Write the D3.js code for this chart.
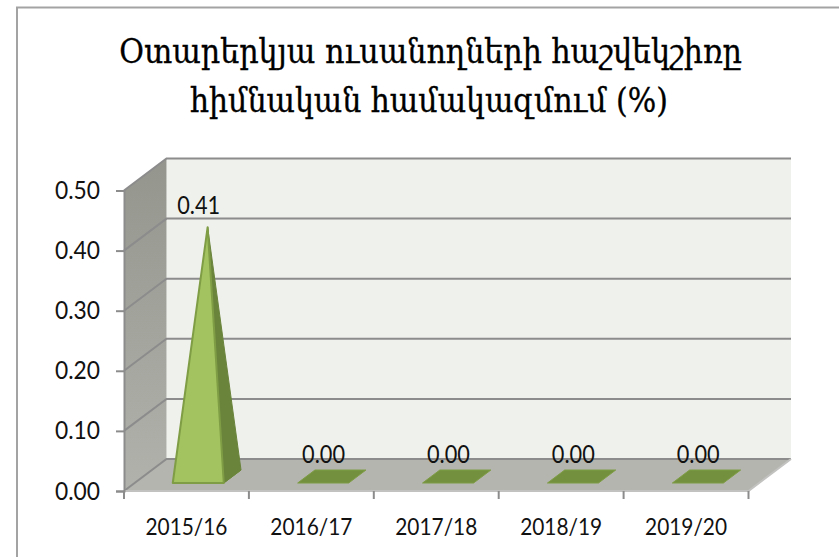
<!DOCTYPE html>
<html>
<head>
<meta charset="utf-8">
<title>Chart</title>
<script src="https://d3js.org/d3.v7.min.js"></script>
<style>
html, body { margin: 0; padding: 0; background: #fff; }
svg { display: block; }
text { font-family: Lato, "Open Sans", sans-serif; fill: #111; }
.title { font-family: "DejaVu Serif", serif; fill: #000; stroke: #000; stroke-width: 0.35px; }
</style>
</head>
<body>
<div id="plot"></div>
<script>
var categories = ["2015/16", "2016/17", "2017/18", "2018/19", "2019/20"];
var values = [0.414, 0, 0, 0, 0];
var yTicks = [0, 0.1, 0.2, 0.3, 0.4, 0.5];
var titleLines = ["Օտարերկյա ուսանողների հաշվեկշիռը", "հիմնական համակազմում (%)"];

var width = 839, height = 557;

var svg = d3.select("#plot").append("svg")
  .attr("width", width).attr("height", height);

var defs = svg.append("defs");
var wallGrad = defs.append("linearGradient").attr("id", "wall")
  .attr("x1", 0).attr("x2", 0).attr("y1", 0).attr("y2", 1);
wallGrad.append("stop").attr("offset", "0%").attr("stop-color", "#94968e");
wallGrad.append("stop").attr("offset", "100%").attr("stop-color", "#b0b2ab");

// chart frame, only top and left are inside the crop
svg.append("path")
  .attr("d", "M17,557V7.5H839")
  .attr("fill", "none").attr("stroke", "#a3a3a3").attr("stroke-width", 2);

var titleSpans = [[119, 742, 63], [190, 668, 112]];
svg.selectAll("text.title").data(titleLines).enter().append("text")
  .attr("class", "title")
  .attr("x", function (d, i) { return titleSpans[i][0]; })
  .attr("y", function (d, i) { return titleSpans[i][2]; })
  .attr("textLength", function (d, i) { return titleSpans[i][1] - titleSpans[i][0]; })
  .attr("lengthAdjust", "spacingAndGlyphs")
  .style("font-size", "34px")
  .text(function (d) { return d; });

var xScale = d3.scaleBand().domain(categories).range([124, 748.5]);
var yScale = d3.scaleLinear().domain([0, 0.5]).range([491, 190.5]);

// oblique offset of the back of the box
var depthX = 42.5, depthY = -32;
function pt(x, y, depth) {
  return [x + depthX * depth, y + depthY * depth];
}
var polygon = function (points) { return points.join(" "); };

var x0 = xScale.range()[0], x1 = xScale.range()[1];
var y0 = yScale(0), yTop = yScale(0.5);
var gridColor = "#8c8c8c";

// back wall, side wall, floor
svg.append("polygon")
  .attr("points", polygon([pt(x0, yTop, 1), pt(x1, yTop, 1), pt(x1, y0, 1), pt(x0, y0, 1)]))
  .attr("fill", "#eff1ec");
svg.append("polygon")
  .attr("points", polygon([pt(x0, yTop, 0), pt(x0, yTop, 1), pt(x0, y0, 1), pt(x0, y0, 0)]))
  .attr("fill", "url(#wall)");
svg.append("polygon")
  .attr("points", polygon([pt(x0, y0, 0), pt(x0, y0, 1), pt(x1, y0, 1), pt(x1, y0, 0)]))
  .attr("fill", "#b3b5ae");

// gridlines run along the side wall and across the back
svg.selectAll("path.grid").data(yTicks).enter().append("path")
  .attr("class", "grid")
  .attr("fill", "none")
  .attr("stroke", gridColor)
  .attr("stroke-width", 2)
  .attr("d", function (d) {
    var a = pt(x0, yScale(d), 0), b = pt(x0, yScale(d), 1), c = pt(x1, yScale(d), 1);
    return "M" + a + "L" + b + "L" + c;
  });

svg.append("path")
  .attr("fill", "none").attr("stroke", "#c2c2c0").attr("stroke-width", 2)
  .attr("d", "M" + pt(x0, y0, 0) + "L" + pt(x1, y0, 0) + "L" + pt(x1, y0, 1));

// axes
var yAxis = svg.append("g")
  .attr("transform", "translate(" + x0 + ",0)")
  .call(d3.axisLeft(yScale).tickValues(yTicks).tickFormat(d3.format(".2f")).tickSize(8).tickPadding(16));
yAxis.select(".domain").attr("stroke", gridColor).attr("stroke-width", 2);
yAxis.selectAll(".tick line").attr("stroke", gridColor).attr("stroke-width", 2);
yAxis.selectAll("text")
  .attr("textLength", 45).attr("lengthAdjust", "spacingAndGlyphs")
  .style("font-size", "25px").style("font-family", "Lato, sans-serif").attr("fill", "#111");

var xAxisScale = d3.scalePoint().domain(d3.range(categories.length + 1)).range([x0, x1]);
var xAxis = svg.append("g").attr("transform", "translate(0," + y0 + ")");
xAxis.selectAll("line").data(xAxisScale.domain()).enter().append("line")
  .attr("x1", xAxisScale).attr("x2", xAxisScale)
  .attr("y1", 0).attr("y2", 8)
  .attr("stroke", gridColor).attr("stroke-width", 2);
xAxis.selectAll("text").data(categories).enter().append("text")
  .attr("x", function (d) { return xScale(d) + xScale.bandwidth() / 2; })
  .attr("y", 44)
  .attr("text-anchor", "middle")
  .attr("textLength", 82).attr("lengthAdjust", "spacingAndGlyphs")
  .style("font-size", "24px")
  .text(function (d) { return d; });

// pyramids
var barHalf = 25.5, barShift = 1.2, depthFront = 0.25, depthBack = 0.656, depthApex = 0.47;
var bars = svg.selectAll("g.bar").data(values).enter().append("g").attr("class", "bar");

function cx(i) { return xScale(categories[i]) + xScale.bandwidth() / 2 + barShift; }

bars.append("polygon")
  .attr("points", function (d, i) {
    return polygon([pt(cx(i) - barHalf, y0, depthFront), pt(cx(i) + barHalf, y0, depthFront),
      pt(cx(i) + barHalf, y0, depthBack), pt(cx(i) - barHalf, y0, depthBack)]);
  })
  .attr("fill", "#73903e").attr("stroke", "#7f9d45").attr("stroke-width", 1);

var raised = bars.filter(function (d) { return d > 0; });

raised.append("polygon")
  .attr("points", function (d) {
    var i = values.indexOf(d);
    return polygon([pt(cx(i) + barHalf, y0, depthFront), pt(cx(i) + barHalf, y0, depthBack),
      pt(cx(i), yScale(d), depthApex)]);
  })
  .attr("fill", "#6a843c").attr("stroke", "#6a843c").attr("stroke-width", 1);

raised.append("polygon")
  .attr("points", function (d) {
    var i = values.indexOf(d);
    return polygon([pt(cx(i) - barHalf, y0, depthFront), pt(cx(i) + barHalf, y0, depthFront),
      pt(cx(i), yScale(d), depthApex)]);
  })
  .attr("fill", "#a2c35f").attr("stroke", "#7f9d45").attr("stroke-width", 2)
  .attr("stroke-linejoin", "round");

bars.append("text")
  .attr("x", function (d, i) { return cx(i) + 11; })
  .attr("y", function (d) { return yScale(d) - 28; })
  .attr("text-anchor", "middle")
  .attr("textLength", 43).attr("lengthAdjust", "spacingAndGlyphs")
  .style("font-size", "25px")
  .text(function (d) { return d3.format(".2f")(d); });
</script>
</body>
</html>
